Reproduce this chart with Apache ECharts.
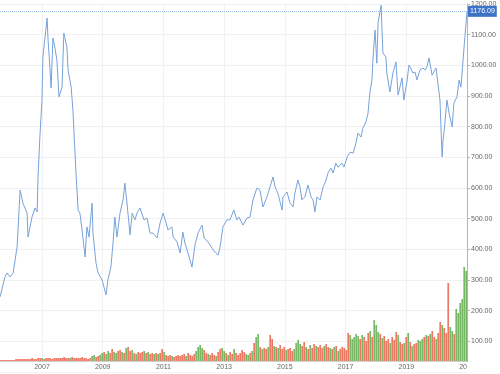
<!DOCTYPE html>
<html><head><meta charset="utf-8">
<script src="https://cdn.jsdelivr.net/npm/echarts@6/dist/echarts.min.js"></script>
<style>html,body{margin:0;padding:0;background:#fff}#c{width:500px;height:374px}</style>
</head><body><div id="c"></div>
<script>
// Price series (decimal year, price)
const priceDates = [2005.62,2005.78,2005.85,2005.95,2006.05,2006.18,2006.28,2006.37,2006.51,2006.54,2006.67,2006.77,2006.84,2006.87,2006.93,2007.00,2007.03,2007.10,2007.17,2007.20,2007.26,2007.30,2007.36,2007.43,2007.49,2007.56,2007.66,2007.72,2007.82,2007.86,2007.96,2008.02,2008.05,2008.12,2008.19,2008.25,2008.32,2008.42,2008.48,2008.55,2008.65,2008.68,2008.78,2008.85,2008.98,2009.11,2009.17,2009.27,2009.34,2009.40,2009.47,2009.57,2009.67,2009.73,2009.80,2009.90,2009.97,2010.06,2010.13,2010.23,2010.29,2010.36,2010.46,2010.56,2010.66,2010.79,2010.89,2010.99,2011.09,2011.15,2011.28,2011.32,2011.45,2011.55,2011.64,2011.71,2011.81,2011.94,2012.04,2012.14,2012.27,2012.34,2012.47,2012.60,2012.70,2012.80,2012.86,2012.96,2013.09,2013.19,2013.32,2013.42,2013.49,2013.62,2013.75,2013.85,2013.95,2014.08,2014.18,2014.28,2014.41,2014.51,2014.61,2014.68,2014.77,2014.91,2014.94,2015.07,2015.17,2015.27,2015.33,2015.43,2015.50,2015.56,2015.66,2015.76,2015.86,2015.93,2015.99,2016.06,2016.16,2016.26,2016.36,2016.42,2016.52,2016.59,2016.68,2016.75,2016.88,2016.95,2017.05,2017.15,2017.25,2017.34,2017.41,2017.51,2017.57,2017.67,2017.74,2017.80,2017.87,2017.90,2017.97,2018.03,2018.07,2018.17,2018.23,2018.33,2018.36,2018.46,2018.56,2018.66,2018.73,2018.86,2018.92,2019.02,2019.09,2019.22,2019.29,2019.35,2019.45,2019.55,2019.62,2019.68,2019.75,2019.85,2019.91,2019.98,2020.04,2020.11,2020.18,2020.21,2020.24,2020.34,2020.41,2020.51,2020.57,2020.67,2020.74,2020.80,2020.87,2020.93,2021.00];
const prices = [245,310,323,310,323,408,593,551,518,440,505,535,522,636,766,887,1027,1092,1154,1082,995,926,1089,1056,1017,897,929,1105,1060,985,929,854,789,649,528,518,463,375,473,440,551,453,355,323,300,251,300,342,420,505,440,518,561,616,551,447,518,496,518,535,538,496,502,453,453,437,486,518,486,463,473,440,424,388,456,420,388,342,414,453,479,437,424,404,391,381,404,473,496,496,528,496,505,479,502,505,561,600,593,538,571,603,636,603,583,528,571,587,551,538,583,626,603,561,571,610,571,561,522,571,561,603,626,649,665,649,681,668,681,668,701,717,714,746,779,766,795,815,844,910,952,1017,1115,1007,1138,1196,1040,1027,975,913,975,1011,903,959,887,946,1001,975,978,952,985,991,985,995,1024,968,962,991,942,887,701,756,779,887,844,799,877,897,952,929,1017,1092,1176.09];
const lastPrice = 1176.09;

// Volume bars (regularly spaced from volStart by volStep), arbitrary units
const volStart = 2005.62;
const volStep = 0.0659;
const volumes = [
1,1,1,1,1,1,1,1,2,2,
2,2,2,2,2,2,3,2,2,3,
3,3,2,3,3,3,2,3,3,3,
3,3,4,3,3,3,4,3,3,3,
3,4,3,3,2,3,5,6,4,5,
6,8,9,7,10,8,12,9,8,10,
11,9,8,13,14,10,11,8,7,9,
8,9,10,8,9,7,8,7,8,7,
8,12,9,6,5,6,5,4,5,6,
5,6,7,5,8,6,5,7,10,14,
16,13,11,8,7,6,8,6,5,9,
12,13,10,8,6,9,7,12,8,6,
8,11,9,7,6,8,10,18,24,27,
14,12,13,12,14,26,22,15,14,13,
16,12,14,11,12,13,10,12,18,21,
17,15,19,14,12,16,13,17,15,14,
16,13,15,17,14,13,12,14,15,10,
12,14,13,11,28,26,22,24,27,25,
22,26,24,20,28,30,24,41,36,29,
27,23,25,20,22,18,24,21,29,26,
19,17,18,24,28,19,15,17,18,21,
20,22,24,26,25,27,30,24,22,28,
39,36,33,28,78,34,30,27,52,48,
58,62,94,90];
const volUp = "0000000000"+"0000000000"+"0100000000"+"0000010000"+"0000001100"+"1101100110"+"0101001010"+"0010100101"+"0010001000"+"0001000011"+"1100100010"+"0110100100"+"0001101011"+"0100100101"+"0001000111"+"1001010010"+"0010010101"+"0000011111"+"0100010111"+"0100010001"+"0010101001"+"1101010010"+"0100011011"+"1111";

const yTicksMax = 1200;
const xLabelYears = [2007,2009,2011,2013,2015,2017,2019,2021];

const xMin = 2005.617, xMax = 2021.0;
const linePts = priceDates.map((d,i)=>[d,prices[i]]);
const barPts = volumes.map((v,i)=>({
  value:[volStart+i*volStep, v],
  itemStyle:{color: volUp[i]==='1' ? 'rgba(96,172,76,0.85)' : 'rgba(230,88,60,0.8)'}
}));

const chart = echarts.init(document.getElementById('c'));
const lab = {fontFamily:'Liberation Sans, Arial, sans-serif', fontSize:7, color:'#666'};
chart.setOption({
  animation:false,
  backgroundColor:'#fff',
  grid:[
    {left:0,right:33,top:4,bottom:2},
    {left:0,right:33,top:4,bottom:13}
  ],
  xAxis:[
    {gridIndex:0,type:'value',min:xMin,max:xMax,show:false,splitLine:{show:false}},
    {gridIndex:1,type:'value',min:xMin,max:xMax,
     axisLine:{show:true,lineStyle:{color:'#cfcfcf'}},
     axisTick:{show:false,customValues:xLabelYears},
     axisLabel:Object.assign({customValues:xLabelYears,margin:3,formatter:v=>String(v)},lab),
     splitLine:{show:true,lineStyle:{color:'#f1f1f1'}}}
  ],
  yAxis:[
    {gridIndex:0,type:'value',position:'right',min:0,max:yTicksMax,interval:100,
     axisLine:{show:true,lineStyle:{color:'#b5b5b5'}},
     axisTick:{show:true,length:3,lineStyle:{color:'#b5b5b5'}},
     axisLabel:Object.assign({margin:4,formatter:v=>v===0?'':v.toFixed(2)},lab),
     splitLine:{show:true,lineStyle:{color:'#f1f1f1'}}},
    {gridIndex:1,type:'value',min:0,max:357,show:false,splitLine:{show:false}}
  ],
  series:[
    {type:'bar',xAxisIndex:1,yAxisIndex:1,data:barPts,barWidth:1.7,barGap:'-100%',large:false},
    {type:'line',xAxisIndex:0,yAxisIndex:0,data:linePts,showSymbol:false,
     lineStyle:{color:'#77a2da',width:1},z:5,
     markLine:{symbol:'none',silent:true,
       lineStyle:{type:[1,1],color:'#9dbfe9',width:1},
       label:{show:true,position:'end',distance:1,formatter:lastPrice.toFixed(2),
         backgroundColor:'#3c73c6',color:'#fff',fontSize:7,padding:[2,2],
         fontFamily:'Liberation Sans, Arial, sans-serif'},
       data:[{yAxis:lastPrice}]}}
  ],
  graphic:[{type:'rect',shape:{x:467,y:362,width:33,height:12},style:{fill:'#fff'},z:100}]
});
</script></body></html>
